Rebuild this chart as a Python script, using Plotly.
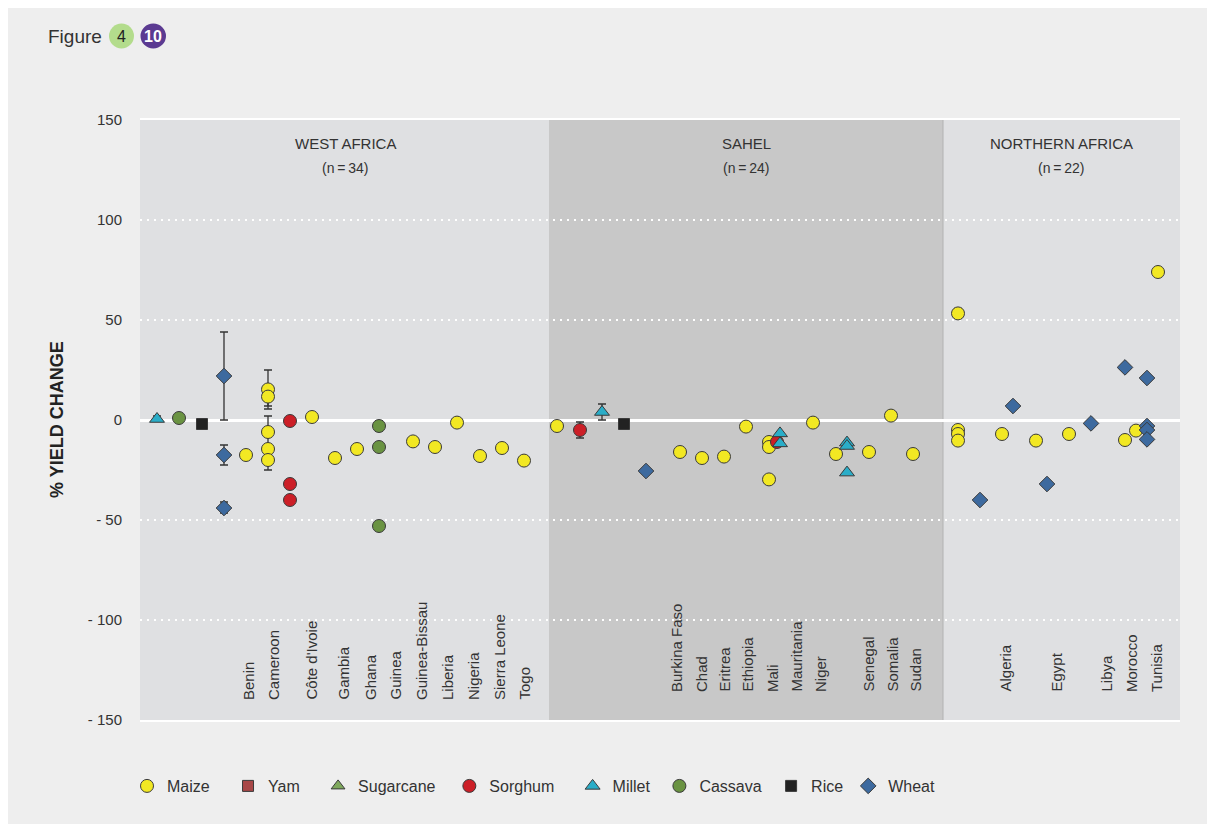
import plotly.graph_objects as go

# ---------------- data ----------------
regions = ["WEST AFRICA", "SAHEL", "NORTHERN AFRICA"]
region_n = ["(n\u2009=\u200934)", "(n\u2009=\u200924)", "(n\u2009=\u200922)"]
region_bounds = [(0, 40.9), (40.9, 80.3), (80.3, 104)]
region_colors = ["#dfe0e2", "#c8c8c8", "#dfe0e2"]
region_title_x = [20.5, 60.6, 92.1]

west_countries = ["Benin", "Cameroon", "Côte d'Ivoie", "Gambia", "Ghana", "Guinea",
                  "Guinea-Bissau", "Liberia", "Nigeria", "Sierra Leone", "Togo"]
west_label_x = [10.8, 13.3, 17.1, 20.3, 23.0, 25.5, 28.1, 30.7, 33.3, 35.9, 38.4]
sahel_countries = ["Burkina Faso", "Chad", "Eritrea", "Ethiopia", "Mali", "Mauritania",
                   "Niger", "Senegal", "Somalia", "Sudan"]
sahel_label_x = [53.6, 56.1, 58.4, 60.7, 63.2, 65.6, 68.0, 72.8, 75.2, 77.5]
north_countries = ["Algeria", "Egypt", "Libya", "Morocco", "Tunisia"]
north_label_x = [86.5, 91.6, 96.6, 99.1, 101.6]

y_ticks = [150, 100, 50, 0, -50, -100, -150]
y_ticktext = ["150", "100", "50", "0", "- 50", "- 100", "- 150"]

# Maize
maize_x = [10.6, 12.8, 12.8, 12.8, 12.8, 12.8, 17.2, 19.5, 21.7, 27.3, 29.5, 31.7, 34.0, 36.2, 38.4,
           41.7, 54.0, 56.2, 58.4, 60.6, 62.9, 62.9, 62.9, 67.3, 69.6, 72.9, 75.1, 77.3,
           81.8, 81.8, 81.8, 81.8, 86.2, 89.6, 92.9, 98.5, 99.6, 101.8]
maize_y = [-17.5, 15.3, 11.7, -6, -14.5, -20, 1.5, -19, -14.5, -10.7, -13.5, -1.3, -18, -14, -20.3,
           -3, -16, -19, -18.3, -3.3, -11, -13.5, -29.7, -1.3, -17, -16, 2.2, -17,
           53.3, -5, -7, -10.3, -7, -10.3, -7, -10, -5.3, 74]
maize_ep = [0, 9.7, 0, 8, 0, 14, 0, 0, 0, 0, 0, 0, 0, 0, 0,
            0, 0, 0, 0, 0, 0, 0, 0, 0, 0, 0, 0, 0,
            2.5, 0, 0, 0, 0, 0, 0, 0, 0, 0]
maize_em = [0, 8.3, 6.2, 0, 0, 5, 0, 0, 0, 0, 0, 0, 0, 0, 0,
            0, 0, 0, 0, 0, 0, 0, 0, 0, 0, 0, 0, 0,
            2.5, 0, 0, 0, 0, 0, 0, 0, 0, 0]

# Sorghum
sorghum_x = [15.0, 15.0, 15.0, 44.0, 63.7]
sorghum_y = [-0.5, -32, -40, -5, -11]
sorghum_ep = [0, 0, 0, 4, 0]
sorghum_em = [0, 0, 0, 4, 0]

# Millet
millet_x = [1.7, 46.2, 64.0, 64.0, 70.7, 70.7, 70.7]
millet_y = [0.5, 4, -6.7, -11.7, -11.3, -13, -26.3]
millet_ep = [1.5, 4, 0, 0, 0, 0, 0]
millet_em = [0, 4, 0, 0, 0, 0, 0]

# Cassava
cassava_x = [3.9, 23.9, 23.9, 23.9]
cassava_y = [1, -3, -13.5, -53]
cassava_ep = [0, 2.5, 0, 0]
cassava_em = [0, 2.5, 0, 0]

# Rice
rice_x = [6.2, 48.4]
rice_y = [-2, -2]

# Wheat
wheat_x = [8.4, 8.4, 8.4, 50.6, 84.0, 87.3, 90.7, 95.1, 98.5, 100.7, 100.7, 100.7, 100.7]
wheat_y = [22, -17.5, -44, -25.5, -40, 7, -32, -1.7, 26.3, 21, -3, -5, -9.7]
wheat_ep = [22, 5, 3, 1, 0, 0, 0, 0, 0, 0, 0, 0, 0]
wheat_em = [22, 5, 2.5, 1, 0, 0, 0, 0, 0, 0, 0, 0, 0]

# ---------------- styles ----------------
OFF = 8                      # page body margin in the browser
W, H = 1200, 816
ML, MT = 140 - OFF, 120 - OFF
PW, PH = 1040, 600
MR, MB = W - ML - PW, H - MT - PH
FONT = "Liberation Sans, Arial, sans-serif"
TXT = "#333333"
OUTLINE = dict(color="#3a3a3a", width=1)
SP = "\u00a0"


def px_x(p):
    return (p - OFF - ML) / PW


def px_y(p):
    return (MT + PH - (p - OFF)) / PH


def err(ep, em):
    return dict(type="data", symmetric=False, array=ep, arrayminus=em,
                color="#333333", thickness=1.3, width=4)


fig = go.Figure()

fig.add_trace(go.Scatter(x=maize_x, y=maize_y, mode="markers", name="Maize" + SP * 3,
                         marker=dict(symbol="circle", size=13, color="#f2e823", line=OUTLINE),
                         error_y=err(maize_ep, maize_em)))
fig.add_trace(go.Scatter(x=[None], y=[None], mode="markers", name="Yam" + SP * 3,
                         marker=dict(symbol="square", size=11, color="#a84747", line=OUTLINE)))
fig.add_trace(go.Scatter(x=[None], y=[None], mode="markers", name="Sugarcane" + SP * 2,
                         marker=dict(symbol="triangle-up", size=12, color="#7ea85c", line=OUTLINE)))
fig.add_trace(go.Scatter(x=sorghum_x, y=sorghum_y, mode="markers", name="Sorghum" + SP * 3,
                         marker=dict(symbol="circle", size=13, color="#cc1f27", line=OUTLINE),
                         error_y=err(sorghum_ep, sorghum_em)))
fig.add_trace(go.Scatter(x=millet_x, y=millet_y, mode="markers", name="Millet" + SP,
                         marker=dict(symbol="triangle-up", size=13, color="#2aadc8", line=OUTLINE),
                         error_y=err(millet_ep, millet_em)))
fig.add_trace(go.Scatter(x=cassava_x, y=cassava_y, mode="markers", name="Cassava" + SP,
                         marker=dict(symbol="circle", size=13, color="#6a9342", line=OUTLINE),
                         error_y=err(cassava_ep, cassava_em)))
fig.add_trace(go.Scatter(x=rice_x, y=rice_y, mode="markers", name="Rice",
                         marker=dict(symbol="square", size=11, color="#222222", line=OUTLINE)))
fig.add_trace(go.Scatter(x=wheat_x, y=wheat_y, mode="markers", name="Wheat",
                         marker=dict(symbol="diamond", size=12, color="#3d6a9f", line=OUTLINE),
                         error_y=err(wheat_ep, wheat_em)))

shapes = []
for (a, b), c in zip(region_bounds, region_colors):
    shapes.append(dict(type="rect", xref="x", yref="y", layer="below",
                       x0=a, x1=b, y0=-150, y1=150, fillcolor=c, line=dict(width=0)))
shapes.append(dict(type="line", xref="x", yref="y", layer="below",
                   x0=region_bounds[2][0], x1=region_bounds[2][0], y0=-150, y1=150,
                   line=dict(color="#b2b2b2", width=1)))
# figure badges
shapes.append(dict(type="circle", xref="paper", yref="paper",
                   x0=px_x(109), x1=px_x(134), y0=px_y(48.5), y1=px_y(23.5),
                   fillcolor="#b3dc8c", line=dict(width=0)))
shapes.append(dict(type="circle", xref="paper", yref="paper",
                   x0=px_x(140.5), x1=px_x(166), y0=px_y(48.5), y1=px_y(23.5),
                   fillcolor="#5b3a91", line=dict(width=0)))

annotations = []
annotations.append(dict(text="Figure", xref="paper", yref="paper", x=px_x(46), y=px_y(37),
                        xanchor="left", yanchor="middle", showarrow=False,
                        font=dict(family=FONT, size=19, color=TXT)))
annotations.append(dict(text="4", xref="paper", yref="paper", x=px_x(121.5), y=px_y(36),
                        xanchor="center", yanchor="middle", showarrow=False,
                        font=dict(family=FONT, size=16, color="#222222")))
annotations.append(dict(text="<b>10</b>", xref="paper", yref="paper", x=px_x(153.3), y=px_y(36),
                        xanchor="center", yanchor="middle", showarrow=False,
                        font=dict(family=FONT, size=16, color="#ffffff")))
annotations.append(dict(text="<b>% YIELD CHANGE</b>", xref="paper", yref="paper",
                        x=px_x(57), y=px_y(420), textangle=-90,
                        xanchor="center", yanchor="middle", showarrow=False,
                        font=dict(family=FONT, size=18, color="#222222")))
for name, n, xc in zip(regions, region_n, region_title_x):
    annotations.append(dict(text=name, x=xc, y=138.5, xref="x", yref="y", showarrow=False,
                            xanchor="center", yanchor="middle",
                            font=dict(family=FONT, size=15, color=TXT)))
    annotations.append(dict(text=n, x=xc, y=126, xref="x", yref="y", showarrow=False,
                            xanchor="center", yanchor="middle",
                            font=dict(family=FONT, size=14, color=TXT)))
for names, xs, ybot in [(west_countries, west_label_x, -141),
                        (sahel_countries, sahel_label_x, -137),
                        (north_countries, north_label_x, -137)]:
    for nm, xc in zip(names, xs):
        annotations.append(dict(text=nm, x=xc, y=ybot, xref="x", yref="y", showarrow=False,
                                textangle=-90, xanchor="center", yanchor="bottom",
                                font=dict(family=FONT, size=15, color=TXT)))

fig.update_layout(
    width=W, height=H,
    margin=dict(l=ML, r=MR, t=MT, b=MB, pad=0),
    paper_bgcolor="#eeeeee", plot_bgcolor="rgba(0,0,0,0)",
    font=dict(family=FONT, color=TXT),
    shapes=shapes, annotations=annotations,
    showlegend=True,
    legend=dict(orientation="h", x=px_x(127), y=px_y(786), xanchor="left", yanchor="middle",
                bgcolor="rgba(0,0,0,0)", font=dict(family=FONT, size=16, color=TXT),
                traceorder="normal"),
    xaxis=dict(range=[0, 104], showticklabels=False, showgrid=False, zeroline=False,
               showline=True, linecolor="#ffffff", linewidth=2, mirror=True, fixedrange=True),
    yaxis=dict(range=[-150, 150], tickvals=y_ticks, ticktext=y_ticktext,
               tickfont=dict(family=FONT, size=15, color=TXT), ticklabelstandoff=17,
               showgrid=True, gridcolor="#ffffff", gridwidth=2, griddash="2px,5px",
               zeroline=True, zerolinecolor="#ffffff", zerolinewidth=2.5,
               showline=False, ticks="", fixedrange=True),
)

fig.write_html("out.html")
